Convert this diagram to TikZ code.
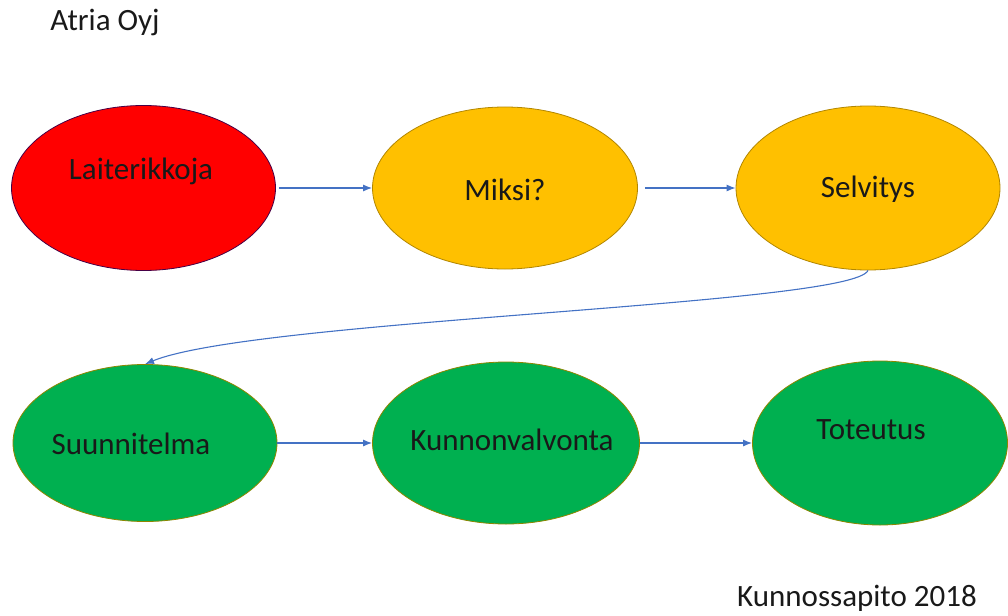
\documentclass[tikz,border=0pt]{standalone}
\usepackage{fontspec}
\setmainfont{Carlito}
\usetikzlibrary{arrows,arrows.meta,shapes.geometric}
\definecolor{punainen}{HTML}{FF0000}
\definecolor{keltainen}{HTML}{FFC000}
\definecolor{vihrea}{HTML}{00B050}
\definecolor{nuoli}{HTML}{4472C4}
\begin{document}
\begin{tikzpicture}[x=1pt,y=-1pt,>={Latex[length=9pt,width=7pt]},
	vaihe/.style={ellipse,inner sep=0pt,line width=0.8pt},
	teksti/.style={font=\fontsize{31}{36}\selectfont,text=black!90},
	yhteys/.style={->,draw=nuoli,line width=1.1pt}]
	\useasboundingbox (0,0) rectangle (1008,615);
	% ellipsit
	\foreach \n/\x/\y/\w/\h/\c/\r in {rikko/143.5/188/264/165/punainen/violet!55!black,
		miksi/505/188/265/162/keltainen/keltainen!70!black,
		selvitys/868/188/264/164/keltainen/keltainen!70!black,
		suunnitelma/145/443/264/157/vihrea/olive,
		valvonta/506/443/267/162/vihrea/olive,
		toteutus/880/443/255/164/vihrea/olive}
		\node[vaihe,fill=\c,draw=\r,minimum width=\w,minimum height=\h] (\n) at (\x,\y) {};
	% tekstit
	\node[teksti] (trikko) at (141,171) {Laiterikkoja};
	\node[teksti] (tmiksi) at (505,190) {Miksi?};
	\node[teksti] (tselvitys) at (868,189) {Selvitys};
	\node[teksti] (tsuunnitelma) at (131,444) {Suunnitelma};
	\node[teksti] (tvalvonta) at (512,440) {Kunnonvalvonta};
	\node[teksti] (ttoteutus) at (871,430) {Toteutus};
	\node[teksti] (atria) at (105,22) {Atria Oyj};
	\node[teksti] (vuosi) at (857,598) {Kunnossapito 2018};
	% nuolet
	\draw[yhteys] ([xshift=3pt]rikko.east) -- (miksi.west);
	\draw[yhteys] ([xshift=7pt]miksi.east) -- (selvitys.west);
	\draw[yhteys] (selvitys.south) .. controls +(-15,35) and +(110,-45) .. (suunnitelma.north);
	\draw[yhteys] (suunnitelma.east) -- (valvonta.west);
	\draw[yhteys] (valvonta.east) -- (toteutus.west);
\end{tikzpicture}
\end{document}
